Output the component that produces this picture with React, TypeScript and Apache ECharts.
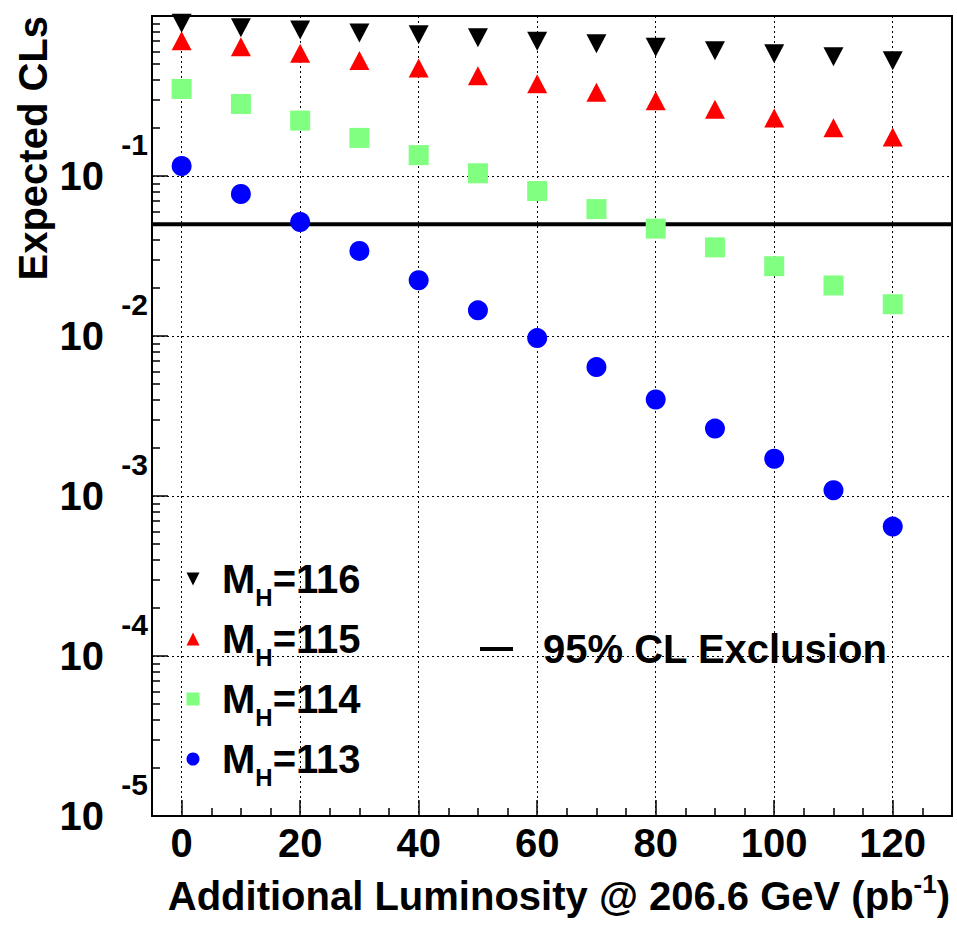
import React, { useEffect, useRef } from "react";
import * as echarts from "echarts";

const FONT = '"Liberation Sans", Arial, Helvetica, sans-serif';

// Additional luminosity (pb^-1)
const luminosity = [0, 10, 20, 30, 40, 50, 60, 70, 80, 90, 100, 110, 120];
// Expected CLs per Higgs mass hypothesis
const clsMH116 = [0.9, 0.845, 0.817, 0.783, 0.764, 0.732, 0.695, 0.671, 0.637, 0.607, 0.58, 0.556, 0.526];
const clsMH115 = [0.7, 0.643, 0.584, 0.527, 0.473, 0.423, 0.377, 0.334, 0.295, 0.261, 0.23, 0.2, 0.175];
const clsMH114 = [0.35, 0.282, 0.222, 0.173, 0.135, 0.104, 0.0805, 0.0621, 0.0469, 0.0358, 0.0273, 0.0207, 0.0158];
const clsMH113 = [0.1155, 0.0772, 0.0516, 0.034, 0.0223, 0.01446, 0.0097, 0.00639, 0.00401, 0.00264, 0.00171, 0.001086, 0.000644];
const exclusionLevel = 0.05;

// Axes
const xRange = [-5, 130];
const yRange = [1e-5, 1];
const xMajorTicks = [0, 20, 40, 60, 80, 100, 120];
const xMinorTicks = [5, 10, 15, 25, 30, 35, 45, 50, 55, 65, 70, 75, 85, 90, 95, 105, 110, 115, 125];
const yDecades = [1e-5, 1e-4, 1e-3, 1e-2, 1e-1, 1];
const yMinorMultipliers = [2, 3, 4, 5, 6, 7, 8, 9];

const legendNames = ["M_H=116", "M_H=115", "M_H=114", "M_H=113"];
const exclusionName = "95% CL Exclusion";

export default function App() {
  const ref = useRef<HTMLDivElement>(null);

  useEffect(() => {
    if (!ref.current) return;
    const chart = echarts.init(ref.current, undefined, { renderer: "svg" });

    const yMinor: number[] = [];
    yDecades.slice(0, -1).forEach((d) => yMinorMultipliers.forEach((m) => yMinor.push(m * d)));

    const pts = (vals: number[]) => luminosity.map((x, i) => [x, vals[i]]);

    const dotted = { color: "#000", width: 1, type: [2, 3] as any };

    const option: any = {
      animation: false,
      textStyle: { fontFamily: FONT, fontWeight: "bold", color: "#000" },
      grid: {
        left: 152,
        right: 5,
        top: 16,
        bottom: 114,
        show: true,
        borderColor: "#000",
        borderWidth: 2,
        backgroundColor: "transparent",
      },
      xAxis: [
        {
          type: "value",
          min: xRange[0],
          max: xRange[1],
          position: "bottom",
          axisLine: { show: true, onZero: false, lineStyle: { color: "#000", width: 2 } },
          axisTick: {
            show: true,
            inside: true,
            length: 16,
            customValues: xMajorTicks,
            lineStyle: { color: "#000", width: 1.5 },
          },
          axisLabel: {
            customValues: xMajorTicks,
            fontSize: 40,
            fontWeight: "bold",
            fontFamily: FONT,
            color: "#000",
            lineHeight: 30,
            margin: 12,
          },
          splitLine: { show: true, lineStyle: dotted },
        },
        {
          type: "value",
          min: xRange[0],
          max: xRange[1],
          position: "bottom",
          axisLine: { show: false, onZero: false },
          axisTick: {
            show: true,
            inside: true,
            length: 8,
            customValues: xMinorTicks,
            lineStyle: { color: "#000", width: 1.5 },
          },
          axisLabel: { show: false },
          splitLine: { show: false },
        },
      ],
      yAxis: [
        {
          type: "log",
          logBase: 10,
          min: yRange[0],
          max: yRange[1],
          position: "left",
          axisLine: { show: true, onZero: false, lineStyle: { color: "#000", width: 2 } },
          axisTick: {
            show: true,
            inside: true,
            length: 16,
            lineStyle: { color: "#000", width: 1.5 },
          },
          axisLabel: {
            margin: 4,
            formatter: (v: number) => {
              const e = Math.round(Math.log10(v));
              if (e >= 0) return "";
              return `{e|${e}}\n{b|10}\n{e| }`;
            },
            rich: {
              e: { fontSize: 30, fontWeight: "bold", fontFamily: FONT, color: "#000", lineHeight: 24, align: "right" },
              b: {
                fontSize: 40,
                fontWeight: "bold",
                fontFamily: FONT,
                color: "#000",
                lineHeight: 40,
                align: "right",
                padding: [0, 44, 0, 0],
              },
            },
          },
          splitLine: { show: true, lineStyle: dotted },
        },
        {
          type: "log",
          logBase: 10,
          min: yRange[0],
          max: yRange[1],
          position: "left",
          axisLine: { show: false, onZero: false },
          axisTick: {
            show: true,
            inside: true,
            length: 8,
            customValues: yMinor,
            lineStyle: { color: "#000", width: 1.5 },
          },
          axisLabel: { show: false },
          splitLine: { show: false },
        },
      ],
      legend: [
        {
          data: [
            { name: legendNames[0], icon: "path://M0,0L12,0L6,12Z" },
            { name: legendNames[1], icon: "triangle" },
            { name: legendNames[2], icon: "rect" },
            { name: legendNames[3], icon: "circle" },
          ],
          orient: "vertical",
          left: 186.5,
          top: 549,
          padding: 0,
          itemWidth: 13,
          itemHeight: 13,
          itemGap: 0,
          selectedMode: false,
          itemStyle: { opacity: 1 },
          formatter: (name: string) => {
            const v = name.split("=")[1];
            return `{m|M}{h|H}{v|=${v}}`;
          },
          textStyle: {
            fontSize: 40,
            fontWeight: "bold",
            fontFamily: FONT,
            color: "#000",
            rich: {
              m: { fontSize: 40, fontWeight: "bold", fontFamily: FONT, color: "#000", lineHeight: 40, padding: [0, 0, 0, 17.5] },
              h: { fontSize: 24, fontWeight: "bold", fontFamily: FONT, color: "#000", lineHeight: 20, padding: [36, 0, 0, 0] },
              v: { fontSize: 40, fontWeight: "bold", fontFamily: FONT, color: "#000", lineHeight: 40 },
            },
          },
        },
        {
          data: [{ name: exclusionName, icon: "rect" }],
          left: 480,
          top: 629,
          padding: 0,
          itemWidth: 33,
          itemHeight: 4,
          selectedMode: false,
          formatter: (name: string) => `{t|${name}}`,
          textStyle: {
            fontSize: 40,
            fontWeight: "bold",
            fontFamily: FONT,
            color: "#000",
            rich: {
              t: { fontSize: 40, fontWeight: "bold", fontFamily: FONT, color: "#000", lineHeight: 40, padding: [0, 0, 0, 25] },
            },
          },
        },
      ],
      graphic: [
        {
          type: "text",
          x: 32.5,
          y: 16,
          rotation: Math.PI / 2,
          style: {
            text: "Expected CLs",
            fontSize: 40,
            fontWeight: "bold",
            fontFamily: FONT,
            fill: "#000",
            align: "right",
            verticalAlign: "middle",
          },
        },
        {
          type: "text",
          x: 950,
          y: 896,
          style: {
            text: "{a|Additional Luminosity @ 206.6 GeV (pb}{s|-1}{a|)}",
            align: "right",
            verticalAlign: "middle",
            fontSize: 40,
            fontWeight: "bold",
            fontFamily: FONT,
            fill: "#000",
            rich: {
              a: { fontSize: 40, fontWeight: "bold", fontFamily: FONT, fill: "#000", lineHeight: 34 },
              s: {
                fontSize: 26,
                fontWeight: "bold",
                fontFamily: FONT,
                fill: "#000",
                lineHeight: 20,
                padding: [0, 0, 24, 0],
              },
            },
          },
        },
      ],
      series: [
        {
          name: exclusionName,
          type: "line",
          data: [
            [xRange[0], exclusionLevel],
            [xRange[1], exclusionLevel],
          ],
          symbol: "none",
          color: "#000",
          lineStyle: { color: "#000", width: 4 },
          z: 2,
        },
        {
          name: legendNames[3],
          type: "scatter",
          data: pts(clsMH113),
          symbol: "circle",
          symbolSize: 20,
          itemStyle: { color: "#0000ff", opacity: 1 },
          z: 3,
        },
        {
          name: legendNames[2],
          type: "scatter",
          data: pts(clsMH114),
          symbol: "rect",
          symbolSize: 20,
          itemStyle: { color: "#80ff80", opacity: 1 },
          z: 3,
        },
        {
          name: legendNames[1],
          type: "scatter",
          data: pts(clsMH115),
          symbol: "triangle",
          symbolSize: [20, 19],
          itemStyle: { color: "#ff0000", opacity: 1 },
          z: 3,
        },
        {
          name: legendNames[0],
          type: "scatter",
          data: pts(clsMH116),
          symbol: "triangle",
          symbolRotate: 180,
          symbolSize: [20, 19],
          itemStyle: { color: "#000000", opacity: 1 },
          z: 3,
        },
      ],
    };

    chart.setOption(option);
    return () => chart.dispose();
  }, []);

  return (
    <div
      ref={ref}
      style={{ position: "absolute", left: 0, top: 0, width: 957, height: 930, background: "#fff" }}
    />
  );
}
